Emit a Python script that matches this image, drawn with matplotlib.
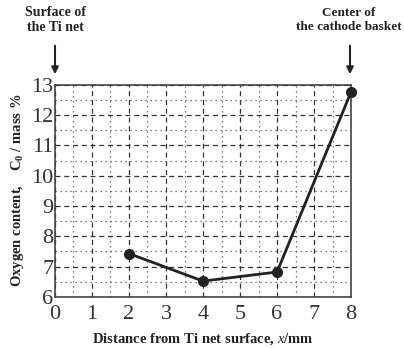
import matplotlib
matplotlib.use("Agg")
import matplotlib.pyplot as plt
from matplotlib.ticker import MultipleLocator

x_mm = [2, 4, 6, 8]
oxygen = [7.43, 6.52, 6.82, 12.77]
x_ticks = [0, 1, 2, 3, 4, 5, 6, 7, 8]
y_ticks = [6, 7, 8, 9, 10, 11, 12, 13]

plt.rcParams['font.family'] = ['Liberation Serif', 'DejaVu Serif']
plt.rcParams['mathtext.fontset'] = 'custom'
plt.rcParams['mathtext.rm'] = 'Liberation Serif'
plt.rcParams['mathtext.it'] = 'Liberation Serif:italic'
plt.rcParams['mathtext.bf'] = 'Liberation Serif:bold'

fig = plt.figure(figsize=(4.04, 3.48), dpi=100)
ax = fig.add_axes([0.136, 0.147, 0.733, 0.609])
ax.plot(x_mm, oxygen, color='#222222', lw=2, marker='o', ms=7, zorder=5, clip_on=False)
ax.set_xlim(0, 8)
ax.set_ylim(6, 13)
ax.set_xticks(x_ticks)
ax.set_yticks(y_ticks)
ax.xaxis.set_minor_locator(MultipleLocator(0.5))
ax.yaxis.set_minor_locator(MultipleLocator(0.5))
ax.grid(which='major', ls=(0, (4, 3)), color='#333333', lw=0.9)
ax.grid(which='minor', ls=(0, (1, 3)), color='#555555', lw=0.9)
ax.tick_params(which='both', length=0, labelsize=16, colors='#333333')
ax.tick_params(axis='x', pad=6)
ax.tick_params(axis='y', pad=1)
for s in ax.spines.values():
    s.set_color('#444444')
    s.set_linewidth(1.2)

ax.set_xlabel('Distance from Ti net surface, $\\mathbf{\\mathit{x}}$/mm', fontsize=10.5,
              fontweight='bold', color='#222222', labelpad=5)
fig.text(18 / 404, 1 - 190 / 348, 'Oxygen content,    C$_\\mathbf{0}$ / mass %',
         rotation=90, ha='center', va='center', fontsize=10.5,
         fontweight='bold', color='#222222')

fig.text(55 / 404, 1 - 20 / 348, 'Surface of\nthe Ti net', ha='center', va='center',
         fontsize=10, fontweight='bold', color='#222222', linespacing=1.25)
fig.text(349 / 404, 1 - 20 / 348, 'Center of\nthe cathode basket', ha='center', va='center',
         fontsize=9.5, fontweight='bold', color='#222222', linespacing=1.3)
for xf in (55 / 404, 350 / 404):
    fig.add_artist(matplotlib.patches.FancyArrowPatch(
        (xf, 1 - 43 / 348), (xf, 1 - 77 / 348), transform=fig.transFigure,
        arrowstyle='-|>', mutation_scale=10, color='#222222', lw=1.5))

fig.savefig('out.png', dpi=100)
